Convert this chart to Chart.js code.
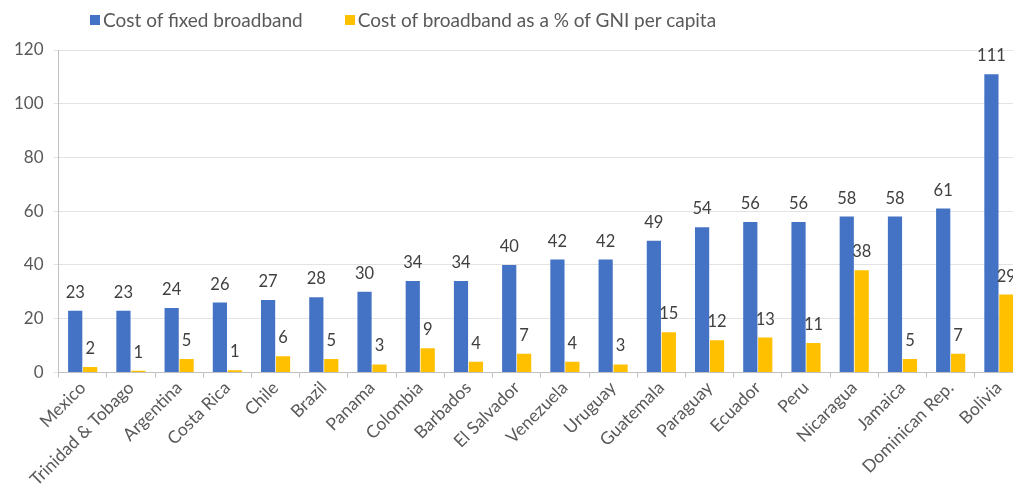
<!DOCTYPE html>
<html>
<head>
<meta charset="utf-8">
<script src="https://cdn.jsdelivr.net/npm/chart.js@4/dist/chart.umd.min.js"></script>
<style>
  html, body { margin: 0; padding: 0; background: #fff; overflow: hidden; }
  #wrap { position: relative; width: 1013px; height: 493px; overflow: hidden; }
  #legend { position: absolute; top: 8px; left: 90px; font-family: Lato, "Liberation Sans", sans-serif; font-size: 19px; color: #595959; display: flex; white-space: nowrap; }
  .item { display: flex; align-items: center; margin-right: 42px; }
  .sw { width: 10px; height: 10px; margin-right: 3px; }
  canvas { position: absolute; left: 0; top: 0; }
</style>
</head>
<body>
<div id="wrap">
  <canvas id="c" width="1023" height="493"></canvas>
  <div id="legend"></div>
</div>
<script>
const categories = ["Mexico", "Trinidad & Tobago", "Argentina", "Costa Rica", "Chile", "Brazil", "Panama", "Colombia", "Barbados", "El Salvador", "Venezuela", "Uruguay", "Guatemala", "Paraguay", "Ecuador", "Peru", "Nicaragua", "Jamaica", "Dominican Rep.", "Bolivia"];
const costFixed = [23, 23, 24, 26, 27, 28, 30, 34, 34, 40, 42, 42, 49, 54, 56, 56, 58, 58, 61, 111];
const costPctGNI = [2, 0.6, 5, 0.8, 6, 5, 3, 9, 4, 7, 4, 3, 15, 12, 13, 11, 38, 5, 7, 29];
const seriesNames = ["Cost of fixed broadband", "Cost of broadband as a % of GNI per capita"];
const seriesColors = ["#4472C4", "#FFC000"];
const yTicks = [0, 20, 40, 60, 80, 100, 120];

const FONT = 'Lato, "Liberation Sans", sans-serif';

const legendEl = document.getElementById('legend');
seriesNames.forEach((n, i) => {
  const it = document.createElement('div'); it.className = 'item';
  const sw = document.createElement('div'); sw.className = 'sw'; sw.style.background = seriesColors[i];
  const tx = document.createElement('span'); tx.textContent = n;
  it.appendChild(sw); it.appendChild(tx); legendEl.appendChild(it);
});

const labelPlugin = {
  id: 'barLabels',
  afterDatasetsDraw(chart) {
    const ctx = chart.ctx;
    ctx.save();
    ctx.font = '16.5px ' + FONT;
    ctx.fillStyle = '#404040';
    ctx.textAlign = 'center';
    ctx.textBaseline = 'alphabetic';
    chart.data.datasets.forEach((ds, di) => {
      const meta = chart.getDatasetMeta(di);
      meta.data.forEach((bar, i) => {
        ctx.fillText(String(Math.round(ds.data[i])), bar.x, bar.y - 13);
      });
    });
    ctx.restore();
  }
};

new Chart(document.getElementById('c'), {
  type: 'bar',
  data: {
    labels: categories,
    datasets: [
      { label: seriesNames[0], data: costFixed, backgroundColor: seriesColors[0] },
      { label: seriesNames[1], data: costPctGNI, backgroundColor: seriesColors[1] }
    ]
  },
  options: {
    responsive: false,
    animation: false,
    layout: { padding: { top: 50, left: 4, right: 0, bottom: 3 } },
    plugins: { legend: { display: false }, tooltip: { enabled: false } },
    datasets: { bar: { categoryPercentage: 0.62, barPercentage: 0.95 } },
    scales: {
      x: {
        grid: { display: true, drawOnChartArea: false, tickLength: 5, color: '#bfbfbf', offset: true },
        border: { color: '#bfbfbf' },
        ticks: { minRotation: 45, maxRotation: 45, autoSkip: false, color: '#595959', font: { family: FONT, size: 17.5 }, padding: 0 }
      },
      y: {
        min: 0, max: 120,
        afterBuildTicks(scale) { scale.ticks = yTicks.map(v => ({ value: v })); },
        grid: { color: '#e3e3e3', tickLength: 5, drawTicks: true },
        border: { color: '#bfbfbf' },
        ticks: { color: '#595959', font: { family: FONT, size: 17 }, padding: 10 }
      }
    }
  },
  plugins: [labelPlugin]
});
</script>
</body>
</html>
